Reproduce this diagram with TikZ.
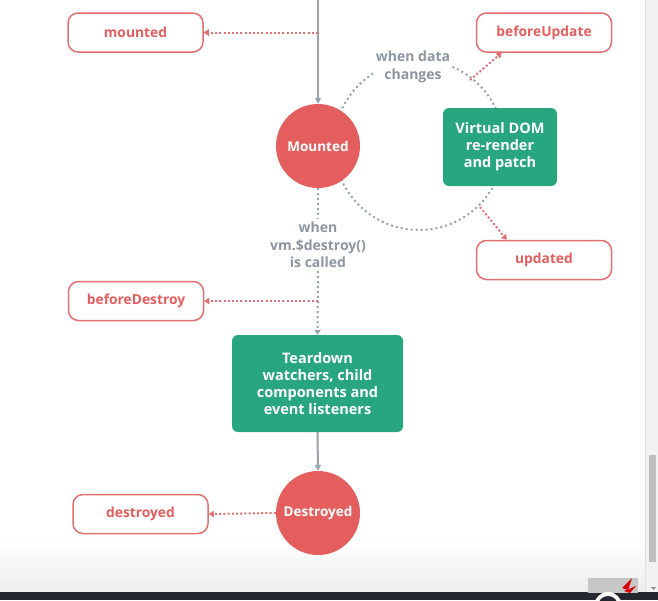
\documentclass[tikz,border=0pt]{standalone}
\usepackage{fontspec}
\setmainfont{Open Sans}
\usetikzlibrary{arrows.meta,calc}
\definecolor{vred}{RGB}{228,94,94}
\definecolor{vredline}{RGB}{226,112,112}
\definecolor{vgreen}{RGB}{40,166,127}
\definecolor{vgray}{RGB}{140,150,160}
\definecolor{vline}{RGB}{150,162,172}
\definecolor{barbg}{RGB}{36,40,46}
\begin{document}
\begin{tikzpicture}[x=1pt,y=-1pt,
  hook/.style={draw=vredline, line width=1.5pt, rounded corners=10pt, fill=white,
    minimum width=135pt, minimum height=39pt, inner sep=0pt, text=vred,
    font=\bfseries\fontsize{13.8}{16}\selectfont},
  state/.style={circle, fill=vred, minimum size=84pt, inner sep=0pt, text=white,
    font=\bfseries\fontsize{13.5}{15}\selectfont},
  proc/.style={fill=vgreen, rounded corners=6pt, text=white, align=center, inner sep=0pt,
    font=\bfseries\fontsize{14.5}{17.2}\selectfont},
  cond/.style={text=vgray, align=center, fill=white, inner sep=2pt,
    font=\bfseries\fontsize{14}{17.5}\selectfont},
  flow/.style={draw=vline, line width=2pt, -{Triangle[width=6pt,length=6pt]}},
  hookarrow/.style={draw=vredline, line width=2pt, dash pattern=on 2pt off 2.2pt,
    -{Triangle[width=6.5pt,length=5pt]}},
  gdots/.style={draw=vline, line width=2pt, dash pattern=on 2pt off 3pt},
  gdotarrow/.style={gdots, -{Triangle[width=6.5pt,length=5pt]}}
]
\useasboundingbox (0,0) rectangle (658,600);
% background and screen bits
\fill[white] (0,0) rectangle (658,600);
\shade[top color=white, bottom color=black!7] (0,540) rectangle (645,592);
\fill[black!5] (645,0) rectangle (658,592);
\draw[black!12, line width=0.8pt] (645,0) -- (645,592);
\fill[black!25] (649,455) rectangle (656,562);
\fill[black!45] (651,587) -- (656,587) -- (653.5,590) -- cycle;
\fill[barbg] (0,592) rectangle (658,600);
\fill[black!22] (588,578) rectangle (638,593);
\begin{scope}
  \clip (588,578) rectangle (638,600);
  \fill[white] (608,606) circle (14);
  \fill[barbg] (608,606) circle (10);
\end{scope}
\fill[red!85!black] (622,588) -- (632,578) -- (628,590) -- cycle;
\fill[red!85!black] (624,591) -- (636,586) -- (630,593) -- cycle;

% update loop circle (drawn first, covered by nodes)
\coordinate (loopc) at (419,145);
\draw[gdots] (loopc) circle (85);

% nodes
\coordinate (top) at (318,0);
\node[hook] (mountedh) at (135.5,32.5) {mounted};
\node[hook] (beforeupdate) at (544,32.5) {beforeUpdate};
\node[state] (mounted) at (318,146) {Mounted};
\node[cond] (datachg) at (413,67) {when data\\changes};
\node[proc, minimum width=114pt, minimum height=78pt] (vdom) at (500,147)
  {Virtual DOM\\re-render\\and patch};
\node[hook] (updated) at (544,260) {updated};
\node[cond, inner sep=3pt] (destroycond) at (318,245) {when\\vm.\$destroy()\\is called};
\node[hook] (beforedestroy) at (136,301) {beforeDestroy};
\node[proc, minimum width=171pt, minimum height=97pt] (teardown) at (317.5,383.5)
  {Teardown\\watchers, child\\components and\\event listeners};
\node[state] (destroyed) at (318,513) {Destroyed};
\node[hook] (destroyedh) at (140.5,514) {destroyed};

% connectors
\draw[flow] (top) -- (mounted.north);
\coordinate (mtap) at (318,32.5);
\draw[hookarrow] (mtap) -- (mountedh.east);
\coordinate (butap) at (470,80);
\coordinate (uptap) at (480,207);
\draw[hookarrow] (butap) -- ($(beforeupdate.south west)+(26,0)$);
\draw[hookarrow] (uptap) -- ($(updated.north west)+(31,0)$);
\draw[gdots] (mounted.south) -- (destroycond.north);
\draw[gdotarrow] (destroycond.south) -- (teardown.north);
\coordinate (bdtap) at (318,301);
\draw[hookarrow] (bdtap) -- (beforedestroy.east);
\draw[flow] (teardown.south) -- (destroyed.north);
\draw[hookarrow] (destroyed.west) -- (destroyedh.east);
\end{tikzpicture}
\end{document}
